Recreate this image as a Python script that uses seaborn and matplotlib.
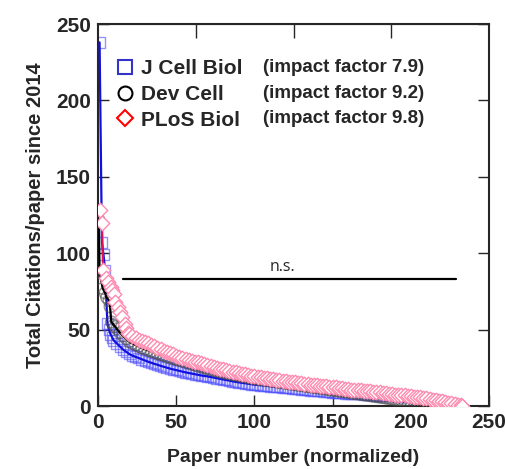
import numpy as np
import matplotlib
matplotlib.use("Agg")
import matplotlib.pyplot as plt
from matplotlib.lines import Line2D
import seaborn as sns

# Citations per paper, sorted, for each journal
jcb_x = [1, 2.5, 3.5, 4.5, 6, 7, 8, 9, 10, 12, 14, 16, 18,
         20, 22, 24, 26, 28, 30, 32, 34, 36, 38, 40, 42, 44, 46, 48, 50, 52, 54, 56, 58,
         60, 62, 64, 66, 68, 70, 72, 74, 76, 78, 80, 82, 84, 86, 88, 90, 92, 94, 96, 98,
         100, 102, 104, 106, 108, 110, 112, 114, 116, 118, 120, 122, 124, 126, 128, 130,
         132, 134, 136, 138, 140, 142, 144, 146, 148, 150, 152, 154, 156, 158, 160, 162,
         164, 166, 168, 170, 172, 174, 176, 178, 180, 182, 184, 186, 188, 190, 192, 194,
         196, 198, 200, 202, 204, 206, 208, 210, 212, 214, 216, 218, 220, 222, 224, 226,
         228, 230]
jcb_y = [238, 107, 99, 89, 54, 50, 47, 45, 43, 41, 39, 37, 35.5,
         34, 33, 32.2, 31.4, 30.6, 29.8, 29, 28.3, 27.6, 27, 26.3, 25.7, 25.1, 24.5, 24, 23.5, 23, 22.5, 22, 21.6,
         21.2, 20.8, 20.4, 20, 19.7, 19.4, 19, 18.6, 18.2, 17.8, 17.4, 17, 16.6, 16.2, 15.8, 15.5, 15.2, 14.9, 14.6, 14.3,
         14, 13.8, 13.6, 13.4, 13.2, 13, 12.8, 12.6, 12.4, 12.2, 12, 11.8, 11.6, 11.4, 11.2, 11,
         10.8, 10.6, 10.4, 10.2, 10, 9.8, 9.6, 9.4, 9.2, 9, 8.9, 8.7, 8.6, 8.4, 8.3, 8.2,
         8, 7.9, 7.8, 7.7, 7.5, 7.4, 7.3, 7.1, 7, 6.9, 6.8, 6.7, 6.6, 6.5, 6.4, 6.3,
         6.2, 6.1, 6, 5.8, 5.6, 5.4, 5.2, 5, 4.6, 4.2, 3.8, 3.4, 3, 2.5, 2, 1.5,
         1, 0.5]

dev_x = [0.5, 1, 3, 4.5, 5.5, 7, 7.7, 8.5, 10, 11, 12, 14, 16, 18,
         20, 22, 24, 26, 28, 30, 32, 34, 36, 38, 40, 42, 44, 46, 48, 50, 52, 54, 56, 58,
         60, 62, 64, 66, 68, 70, 72, 74, 76, 78, 80, 82, 84, 86, 88, 90, 92, 94, 96, 98,
         100, 102, 104, 106, 108, 110, 112, 114, 116, 118, 120, 122, 124, 126, 128, 130,
         132, 134, 136, 138, 140, 142, 144, 146, 148, 150, 152, 154, 156, 158, 160, 162,
         164, 166, 168, 170, 172, 174, 176, 178, 180, 182, 184, 186, 188, 190, 192, 194,
         196, 198, 200, 202, 204, 206, 208, 210, 212, 214, 216, 218, 220]
dev_y = [122, 88, 77, 74, 71, 69, 65, 55, 53, 52, 50.5, 48, 46, 44,
         42, 41, 40, 39, 38, 37.2, 36.5, 35.7, 35, 34.3, 33.6, 33, 32.3, 31.7, 31, 30.4, 29.8, 29.2, 28.6, 28,
         27.3, 26.7, 26.1, 25.5, 25, 24.4, 23.9, 23.4, 22.9, 22.4, 21.9, 21.4, 21, 20.6, 20.2, 19.8, 19.4, 19, 18.6, 18.2,
         17.8, 17.5, 17.2, 16.9, 16.6, 16.3, 16, 15.7, 15.4, 15.1, 14.8, 14.5, 14.2, 13.9, 13.6, 13.3,
         13, 12.7, 12.4, 12.1, 11.8, 11.5, 11.2, 10.9, 10.6, 10.3, 10, 9.7, 9.4, 9.1, 8.8, 8.5,
         8.2, 7.9, 7.6, 7.3, 7, 6.7, 6.4, 6.1, 5.8, 5.5, 5.2, 4.9, 4.6, 4.3, 4, 3.7,
         3.4, 3.1, 2.8, 2.5, 2.2, 1.9, 1.6, 1.3, 1, 0.7, 0.5, 0.3, 0.2]

plos_x = [1.3, 2.5, 3.3, 5, 6.4, 8, 9, 10, 11, 12.5, 14, 15.5, 17, 18, 19,
          20, 22, 24, 26, 28, 30, 32, 34, 36, 38, 40, 42, 44, 46, 48, 50, 52, 54, 56, 58,
          60, 62, 64, 66, 68, 70, 72, 74, 76, 78, 80, 82, 84, 86, 88, 90, 92, 94, 96, 98,
          100, 102, 104, 106, 108, 110, 112, 114, 116, 118, 120, 122, 124, 126, 128, 130,
          132, 134, 136, 138, 140, 142, 144, 146, 148, 150, 152, 154, 156, 158, 160, 162,
          164, 166, 168, 170, 172, 174, 176, 178, 180, 182, 184, 186, 188, 190, 192, 194,
          196, 198, 200, 202, 204, 206, 208, 210, 212, 214, 216, 218, 220, 222, 224, 226,
          228, 230, 232, 233]
plos_y = [128, 120, 89, 84, 81, 78, 76, 73, 68, 65, 61.5, 58, 54, 51, 48,
          47, 45.5, 44.5, 43.5, 42.5, 41.7, 41, 40, 39, 38, 37, 36.2, 35.4, 34.6, 33.8, 33, 32.3, 31.6, 30.9, 30.2,
          29.5, 29, 28.5, 28, 27.3, 26.6, 26, 25.5, 25, 24.5, 24, 23.5, 23, 22.5, 22, 21.5, 21.1, 20.7, 20.3, 19.9,
          19.5, 19.2, 18.9, 18.6, 18.3, 18, 17.6, 17.2, 16.9, 16.6, 16.3, 16, 15.7, 15.4, 15.1, 14.8,
          14.5, 14.2, 14, 13.7, 13.5, 13.3, 13.1, 12.9, 12.7, 12.5, 12.2, 11.9, 11.6, 11.3, 11, 10.8,
          10.6, 10.4, 10.2, 10, 9.8, 9.6, 9.4, 9.2, 9, 8.7, 8.4, 8.1, 7.8, 7.5, 7.3, 7.1,
          6.9, 6.7, 6.5, 6.2, 5.9, 5.6, 5.3, 5, 4.6, 4.2, 3.8, 3.4, 3, 2.6, 2.2, 1.8,
          1.3, 0.8, 0.4, 0]

journals = ["J Cell Biol", "Dev Cell", "PLoS Biol"]
impact = ["(impact factor 7.9)", "(impact factor 9.2)", "(impact factor 9.8)"]

ns_x = [16, 229]
ns_y = 83

sns.set_style("ticks")
plt.rcParams["font.family"] = ["Liberation Sans", "DejaVu Sans"]
plt.rcParams["font.weight"] = "bold"

fig = plt.figure(figsize=(5.06, 4.69), dpi=100)
ax = fig.add_axes([0.1937, 0.1343, 0.7727, 0.8145])

# J Cell Biol
sns.scatterplot(x=jcb_x, y=jcb_y, marker="s", s=60, facecolors="none",
                edgecolor=(0.3, 0.3, 1.0, 0.6), linewidth=1.0, ax=ax, zorder=2)
sns.lineplot(x=jcb_x, y=jcb_y, color="#1010e0", linewidth=1.6, ax=ax, zorder=3,
             estimator=None, sort=False)
# Dev Cell
sns.scatterplot(x=dev_x, y=dev_y, marker="o", s=70, facecolors="none",
                edgecolor=(0.3, 0.3, 0.3, 0.6), linewidth=1.0, ax=ax, zorder=4)
sns.lineplot(x=dev_x, y=dev_y, color="black", linewidth=1.6, ax=ax, zorder=5,
             estimator=None, sort=False)
# PLoS Biol
sns.lineplot(x=plos_x, y=plos_y, color="#e0105a", linewidth=1.6, ax=ax, zorder=6,
             estimator=None, sort=False)
sns.scatterplot(x=plos_x, y=plos_y, marker="D", s=55, facecolors="white",
                edgecolor="#ff8ab0", linewidth=1.0, ax=ax, zorder=7)

# n.s. bar
ax.plot(ns_x, [ns_y, ns_y], color="black", linewidth=1.6, zorder=8)
ax.text(118, ns_y + 3, "n.s.", ha="center", va="bottom", fontsize=11.5,
        fontweight="normal", family=["Open Sans", "DejaVu Sans"])

ax.set_xlim(0, 250)
ax.set_ylim(0, 250)
ax.set_xticks([0, 50, 100, 150, 200, 250])
ax.set_yticks([0, 50, 100, 150, 200, 250])
ax.tick_params(direction="in", length=8, width=1, labelsize=15, right=True, pad=5)
for lab in ax.get_xticklabels() + ax.get_yticklabels():
    lab.set_fontweight("bold")
for sp in ax.spines.values():
    sp.set_linewidth(1.5)
    sp.set_visible(True)

top = ax.secondary_xaxis("top")
top.set_xticks([62.5, 125, 187.5])
top.set_xticklabels([])
top.tick_params(direction="in", length=10, width=1)

ax.set_xlabel("Paper number (normalized)", fontsize=14, fontweight="bold", labelpad=12)
ax.set_ylabel("Total Citations/paper since 2014", fontsize=14.5, fontweight="bold", labelpad=8)

handles = [
    Line2D([], [], marker="s", linestyle="none", markerfacecolor="none",
           markeredgecolor="#3333cc", markersize=10, markeredgewidth=1.5),
    Line2D([], [], marker="o", linestyle="none", markerfacecolor="none",
           markeredgecolor="black", markersize=10, markeredgewidth=1.5),
    Line2D([], [], marker="D", linestyle="none", markerfacecolor="none",
           markeredgecolor="red", markersize=8, markeredgewidth=1.5),
]
leg = ax.legend(handles, journals, loc="upper left", bbox_to_anchor=(0.02, 0.935),
                frameon=False, prop={"size": 15, "weight": "bold"},
                handlelength=0.8, handletextpad=0.4, labelspacing=0.32, borderpad=0)

for i, t in enumerate(impact):
    ax.text(0.422, 0.885 - i * 0.066, t, transform=ax.transAxes, fontsize=13.5,
            fontweight="bold", va="center", ha="left")

fig.savefig("out.png", dpi=100)
